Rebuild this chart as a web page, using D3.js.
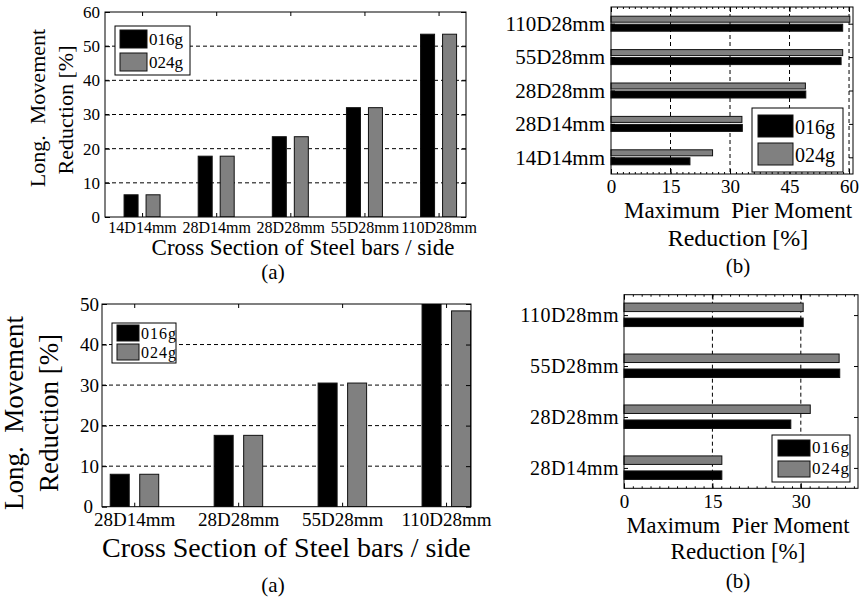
<!DOCTYPE html>
<html>
<head>
<meta charset="utf-8">
<script src="https://cdn.jsdelivr.net/npm/d3@7"></script>
<style>
  body { margin: 0; background: #fff; }
  svg text { font-family: "Liberation Serif", "Times New Roman", serif; fill: #000; }
</style>
</head>
<body>
<svg id="fig" width="860" height="600"></svg>
<script>
// ---- data ----
var seriesNames = ['016g', '024g']

// (a) top: long. movement reduction
var catsA1 = ['14D14mm', '28D14mm', '28D28mm', '55D28mm', '110D28mm']
var a1_016 = [6.5, 17.8, 23.5, 32, 53.5]
var a1_024 = [6.5, 17.8, 23.5, 32, 53.5]
var yTicksA1 = [0, 10, 20, 30, 40, 50, 60]

// (b) top: maximum pier moment reduction
var catsB1 = ['14D14mm', '28D14mm', '28D28mm', '55D28mm', '110D28mm']
var b1_016 = [19.9, 33.1, 49.1, 58.0, 58.4]
var b1_024 = [25.6, 33.0, 49.0, 58.4, 60.2]
var xTicksB1 = [0, 15, 30, 45, 60]

// (a) bottom
var catsA2 = ['28D14mm', '28D28mm', '55D28mm', '110D28mm']
var a2_016 = [8.0, 17.6, 30.5, 51]
var a2_024 = [8.0, 17.6, 30.5, 48.3]
var yTicksA2 = [0, 10, 20, 30, 40, 50]

// (b) bottom
var catsB2 = ['28D14mm', '28D28mm', '55D28mm', '110D28mm']
var b2_016 = [16.6, 28.3, 36.6, 30.4]
var b2_024 = [16.6, 31.6, 36.5, 30.4]
var xTicksB2 = [0, 15, 30]

var fills = ['#000', '#808080']
var svg = d3.select('#fig')
var clipId = 0

function textAt(g, x, y, str, size, anchor, rot) {
  var t = g.append('text')
    .attr('font-size', size)
    .attr('text-anchor', anchor || 'middle')
    .text(str)
  if (rot) t.attr('transform', 'translate(' + x + ',' + y + ') rotate(-90)')
  else t.attr('x', x).attr('y', y)
  return t
}

function styleAxis(ax, size, spacing) {
  ax.select('.domain').remove()
  ax.selectAll('line').attr('stroke', '#000')
  ax.selectAll('text').attr('font-size', size).attr('fill', '#000')
    .style('letter-spacing', spacing || 0)
}

function legend(g, p) {
  g.append('rect').attr('x', p.x).attr('y', p.y).attr('width', p.w).attr('height', p.h)
    .attr('fill', '#fff').attr('stroke', '#000').attr('stroke-width', 1)
  seriesNames.forEach(function(n, k) {
    g.append('rect')
      .attr('x', p.x + p.sx).attr('y', p.y + p.sy[k])
      .attr('width', p.sw).attr('height', p.sh)
      .attr('fill', fills[k]).attr('stroke', '#111')
    textAt(g, p.x + p.sx + p.sw + 2, p.y + p.ty[k], n, p.fs, 'start')
      .style('letter-spacing', p.ls || 0)
  })
}

// vertical grouped bars
function vPanel(p) {
  var g = svg.append('g')
  var x = d3.scaleLinear().domain(p.xd).range([p.L, p.R])
  var y = d3.scaleLinear().domain(p.yd).range([p.B, p.T])
  var id = 'clip' + (clipId++)
  g.append('clipPath').attr('id', id).append('rect')
    .attr('x', p.L).attr('y', p.T).attr('width', p.R - p.L).attr('height', p.B - p.T)

  // dashed grid
  g.selectAll('.grid').data(p.yTicks.filter(function(v) {return v > p.yd[0] && v < p.yd[1]}))
    .enter().append('line')
    .attr('x1', p.L).attr('x2', p.R)
    .attr('y1', function(d) {return y(d)}).attr('y2', function(d) {return y(d)})
    .attr('stroke', '#000').attr('stroke-width', 1).attr('stroke-dasharray', '4,3')

  var idx = p.cats.map(function(c, i) {return i + 1})
  var bars = g.append('g').attr('clip-path', 'url(#' + id + ')')
  p.series.forEach(function(s, k) {
    bars.selectAll('.s' + k).data(s).enter().append('rect')
      .attr('x', function(d, i) {return x(i + 1) + p.off[k] - p.bw / 2})
      .attr('y', function(d) {return y(d)})
      .attr('width', p.bw)
      .attr('height', function(d) {return y(0) - y(d)})
      .attr('fill', fills[k]).attr('stroke', '#111').attr('stroke-width', 1)
  })

  var ax = g.append('g').attr('transform', 'translate(' + p.L + ',0)')
    .call(d3.axisLeft(y).tickValues(p.yTicks).tickSize(-5).tickSizeOuter(0).tickPadding(p.yPad))
  styleAxis(ax, p.yFs)
  // zero label nudged left so it clears the first category label
  if (p.zeroDx) ax.selectAll('.tick text').filter(function(d) {return d === 0}).attr('dx', p.zeroDx)
  var axr = g.append('g').attr('transform', 'translate(' + p.R + ',0)')
    .call(d3.axisRight(y).tickValues(p.yTicks).tickSize(-5).tickSizeOuter(0).tickFormat(''))
  styleAxis(axr, p.yFs)
  var axb = g.append('g').attr('transform', 'translate(0,' + p.B + ')')
    .call(d3.axisBottom(x).tickValues(idx).tickSize(-4).tickSizeOuter(0).tickPadding(p.xPad)
      .tickFormat(function(i) {return p.cats[i - 1]}))
  styleAxis(axb, p.xFs, p.xLs)
  var axt = g.append('g').attr('transform', 'translate(0,' + p.T + ')')
    .call(d3.axisTop(x).tickValues(idx).tickSize(-4).tickSizeOuter(0).tickFormat(''))
  styleAxis(axt, p.xFs)

  g.append('rect').attr('x', p.L).attr('y', p.T).attr('width', p.R - p.L).attr('height', p.B - p.T)
    .attr('fill', 'none').attr('stroke', '#000').attr('stroke-width', 1)
  return g
}

// horizontal grouped bars
function hPanel(p) {
  var g = svg.append('g')
  var x = d3.scaleLinear().domain(p.xd).range([p.L, p.R])
  var y = d3.scaleLinear().domain(p.yd).range([p.B, p.T])

  g.selectAll('.grid').data(p.xTicks.filter(function(v) {return v > p.xd[0] && v < p.xd[1]}))
    .enter().append('line')
    .attr('y1', p.T).attr('y2', p.B)
    .attr('x1', function(d) {return x(d)}).attr('x2', function(d) {return x(d)})
    .attr('stroke', '#000').attr('stroke-width', 1).attr('stroke-dasharray', '4,3')

  var idx = p.cats.map(function(c, i) {return i + 1})
  p.series.forEach(function(s, k) {
    g.selectAll('.s' + k).data(s).enter().append('rect')
      .attr('x', x(0))
      .attr('y', function(d, i) {return y(i + 1) + p.off[k]})
      .attr('width', function(d) {return x(d) - x(0)})
      .attr('height', p.bh[k])
      .attr('fill', fills[k]).attr('stroke', '#111').attr('stroke-width', 1)
  })

  // minor ticks along top and bottom
  var minor = d3.range(p.xd[0], p.xd[1], 1.5)
  var axmb = g.append('g').attr('transform', 'translate(0,' + p.B + ')')
    .call(d3.axisBottom(x).tickValues(minor).tickSize(-2).tickSizeOuter(0).tickFormat(''))
  styleAxis(axmb, 10)
  var axmt = g.append('g').attr('transform', 'translate(0,' + p.T + ')')
    .call(d3.axisTop(x).tickValues(minor).tickSize(-2).tickSizeOuter(0).tickFormat(''))
  styleAxis(axmt, 10)

  var axb = g.append('g').attr('transform', 'translate(0,' + p.B + ')')
    .call(d3.axisBottom(x).tickValues(p.xTicks).tickSize(-5).tickSizeOuter(0).tickPadding(p.xPad))
  styleAxis(axb, p.xFs)
  var axt = g.append('g').attr('transform', 'translate(0,' + p.T + ')')
    .call(d3.axisTop(x).tickValues(p.xTicks).tickSize(-5).tickSizeOuter(0).tickFormat(''))
  styleAxis(axt, p.xFs)
  var axl = g.append('g').attr('transform', 'translate(' + p.L + ',0)')
    .call(d3.axisLeft(y).tickValues(idx).tickSize(-4).tickSizeOuter(0).tickPadding(p.yPad)
      .tickFormat(function(i) {return p.cats[i - 1]}))
  styleAxis(axl, p.yFs, p.yLs)
  var axr = g.append('g').attr('transform', 'translate(' + p.R + ',0)')
    .call(d3.axisRight(y).tickValues(idx).tickSize(-4).tickSizeOuter(0).tickFormat(''))
  styleAxis(axr, p.yFs)

  g.append('rect').attr('x', p.L).attr('y', p.T).attr('width', p.R - p.L).attr('height', p.B - p.T)
    .attr('fill', 'none').attr('stroke', '#000').attr('stroke-width', 1)
  return g
}

// ---- top left ----
var g1 = vPanel({
  L: 105, R: 466, T: 12, B: 217, xd: [0.5, 5.37], yd: [0, 60],
  cats: catsA1, series: [a1_016, a1_024], yTicks: yTicksA1,
  bw: 14, off: [-11, 11], yPad: 5, yFs: 17, xPad: 5, xFs: 16
})
legend(g1, {x: 115, y: 26, w: 75, h: 49, sx: 5, sw: 27, sh: 18, sy: [4, 27], ty: [19, 42], fs: 17})
textAt(g1, 45, 108, 'Long.\u00a0 Movement', 22, 'middle', true)
textAt(g1, 73, 110, 'Reduction [%]', 22, 'middle', true)
textAt(g1, 303, 255, 'Cross Section of Steel bars / side', 23)
textAt(g1, 273, 279, '(a)', 21)

// ---- top right ----
var g2 = hPanel({
  L: 611, R: 853, T: 7, B: 174, xd: [0, 61], yd: [0.5, 5.5],
  cats: catsB1, series: [b1_016, b1_024], xTicks: xTicksB1,
  bh: [7, 6], off: [0.5, -7.5], xPad: 6, xFs: 19, yPad: 6, yFs: 21
})
legend(g2, {x: 752, y: 108, w: 91, h: 64, sx: 6, sw: 35, sh: 22, sy: [7, 35], ty: [26, 54], fs: 20})
textAt(g2, 738, 218, 'Maximum\u00a0 Pier Moment', 23)
textAt(g2, 738, 246, 'Reduction [%]', 24)
textAt(g2, 738, 273, '(b)', 21)

// ---- bottom left ----
var g3 = vPanel({
  L: 102, R: 471, T: 304, B: 506.7, xd: [0.69, 4.24], yd: [0, 50],
  cats: catsA2, series: [a2_016, a2_024], yTicks: yTicksA2,
  bw: 19, off: [-14.5, 15], yPad: 3, yFs: 19, xPad: 6, xFs: 19, zeroDx: -6
})
legend(g3, {x: 112, y: 323, w: 64, h: 40, sx: 5, sw: 22, sh: 16, sy: [2, 21], ty: [16, 35], fs: 16, ls: '1px'})
textAt(g3, 23, 413, 'Long.\u00a0 Movement', 27, 'middle', true)
textAt(g3, 58, 413, 'Reduction [%]', 27, 'middle', true)
textAt(g3, 102, 557, 'Cross Section of Steel bars / side', 28, 'start')
textAt(g3, 273, 592, '(a)', 21)

// ---- bottom right ----
var g4 = hPanel({
  L: 624, R: 858, T: 294.7, B: 488.3, xd: [0, 39.7], yd: [0.6, 4.4],
  cats: catsB2, series: [b2_016, b2_024], xTicks: xTicksB2,
  bh: [8.5, 8.5], off: [3, -12], xPad: 6, xFs: 19, yPad: 5, yFs: 20, yLs: '0.5px'
})
legend(g4, {x: 772, y: 435, w: 78, h: 47, sx: 6, sw: 32, sh: 16, sy: [5, 26], ty: [18, 39], fs: 17, ls: '1px'})
textAt(g4, 738, 533, 'Maximum\u00a0 Pier Moment', 22.5)
textAt(g4, 738, 559, 'Reduction [%]', 23)
textAt(g4, 738, 588, '(b)', 21)
</script>
</body>
</html>
